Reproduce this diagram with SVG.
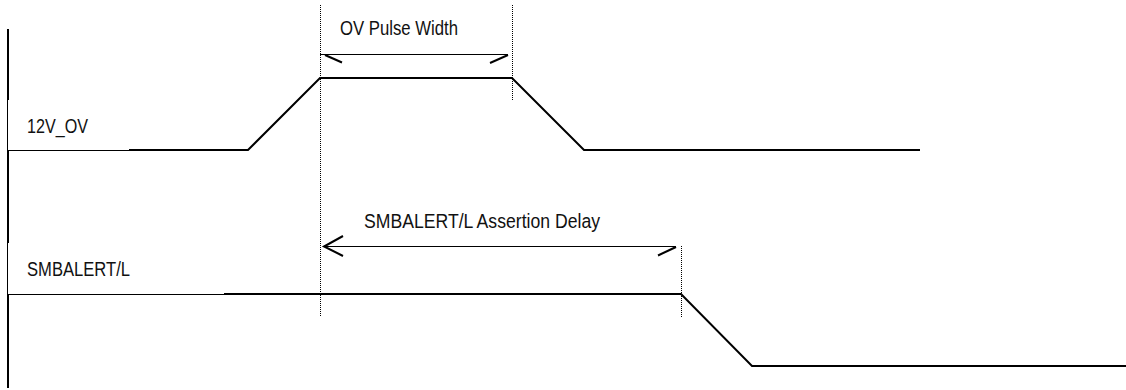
<svg xmlns="http://www.w3.org/2000/svg" width="1126" height="390" viewBox="0 0 1126 390">
<style>
.lbl{font-family:"Liberation Sans",Arial,sans-serif;font-size:20.5px;fill:#111}
.sig{fill:none;stroke:#000;stroke-width:2;stroke-linejoin:miter}
.thin{fill:none;stroke:#000;stroke-width:1}
.dot{fill:none;stroke:#000;stroke-width:1;stroke-dasharray:1 1}
.barb{fill:none;stroke:#000;stroke-width:2}
</style>
<rect width="1126" height="390" fill="#fff"/>
<g id="axis">
<line class="sig" x1="8" y1="29" x2="8" y2="100"/>
<line class="thin" x1="7.5" y1="100" x2="7.5" y2="150"/>
<line class="sig" x1="8" y1="150" x2="8" y2="243"/>
<line class="thin" x1="7.5" y1="243" x2="7.5" y2="295"/>
<line class="sig" x1="8" y1="295" x2="8" y2="388"/>
</g>
<g id="signal-12v">
<text class="lbl" x="27" y="133" textLength="61" lengthAdjust="spacingAndGlyphs">12V_OV</text>
<line class="thin" x1="8" y1="150.5" x2="129" y2="150.5"/>
<path class="sig" d="M129 150 L248 150 L320 78 L512 78 L584 150 L920 150"/>
</g>
<g id="signal-smbalert">
<text class="lbl" x="27" y="276" textLength="103" lengthAdjust="spacingAndGlyphs">SMBALERT/L</text>
<line class="thin" x1="8" y1="294.5" x2="224" y2="294.5"/>
<path class="sig" d="M224 294 L681 294 L752 366 L1126 366"/>
</g>
<g id="connectors">
<line class="dot" x1="320.5" y1="5" x2="320.5" y2="317"/>
<line class="dot" x1="512.5" y1="5" x2="512.5" y2="101"/>
<line class="dot" x1="681.5" y1="246" x2="681.5" y2="318"/>
</g>
<g id="dim-pulse-width">
<text class="lbl" x="340" y="35" textLength="118" lengthAdjust="spacingAndGlyphs">OV Pulse Width</text>
<line class="thin" x1="320" y1="54.5" x2="508" y2="54.5"/>
<line class="barb" x1="325" y1="55" x2="342" y2="62.5"/>
<line class="barb" x1="508" y1="55" x2="490" y2="63"/>
</g>
<g id="dim-assertion-delay">
<text class="lbl" x="364" y="228" textLength="236" lengthAdjust="spacingAndGlyphs">SMBALERT/L Assertion Delay</text>
<line class="thin" x1="324" y1="246.5" x2="676" y2="246.5"/>
<polyline class="barb" points="343,236 324,246.5 343,256"/>
<line class="barb" x1="676" y1="247" x2="658" y2="255.5"/>
</g>
</svg>
